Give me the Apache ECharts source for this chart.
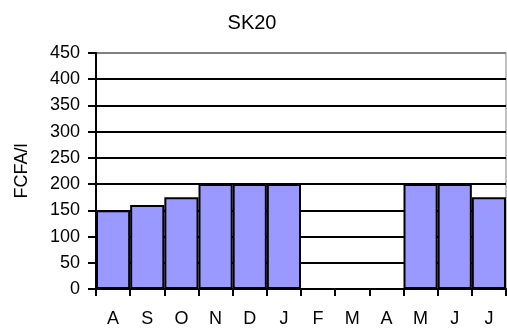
<!DOCTYPE html>
<html>
<head>
<meta charset="utf-8">
<script src="https://cdn.jsdelivr.net/npm/echarts@6/dist/echarts.min.js"></script>
<style>
html,body{margin:0;padding:0;background:#fff;}
#chart{width:507px;height:331px;}
</style>
</head>
<body>
<div id="chart"></div>
<script>
var titleText = 'SK20';
var yAxisName = 'FCFA/l';
var categories = ['A','S','O','N','D','J','F','M','A','M','J','J'];
var prices = [150,160,175,200,200,200,0,0,0,200,200,175];
var yMin = 0, yMax = 450, yStep = 50;

var FONT = '"Liberation Sans", Arial, sans-serif';
var chart = echarts.init(document.getElementById('chart'));
var splitColors = [];
for (var i = 0; i < 9; i++) splitColors.push('#000000');
splitColors.push('#808080');

chart.setOption({
  animation: false,
  backgroundColor: '#ffffff',
  title: {
    text: titleText,
    left: 247,
    top: 8,
    textAlign: 'center',
    textStyle: {fontFamily: FONT, fontSize: 20, fontWeight: 'normal', color: '#000'}
  },
  grid: {
    left: 96, right: 1, top: 53, bottom: 42,
    show: true, borderColor: '#808080', borderWidth: 1, backgroundColor: '#ffffff'
  },
  xAxis: {
    type: 'category',
    data: categories,
    boundaryGap: true,
    axisLine: {lineStyle: {color: '#000', width: 2}},
    axisTick: {show: true, alignWithLabel: false, length: 7, lineStyle: {color: '#000', width: 2}},
    axisLabel: {margin: 21, fontFamily: FONT, fontSize: 18, color: '#000', interval: 0},
    splitLine: {show: false}
  },
  yAxis: {
    type: 'value',
    min: yMin, max: yMax, interval: yStep,
    name: yAxisName,
    nameLocation: 'middle',
    nameGap: 65,
    nameTextStyle: {fontFamily: FONT, fontSize: 18, color: '#000'},
    axisLine: {show: true, lineStyle: {color: '#000', width: 2}},
    axisTick: {show: true, length: 8, lineStyle: {color: '#000', width: 2}},
    axisLabel: {margin: 16, fontFamily: FONT, fontSize: 18, color: '#000'},
    splitLine: {show: true, lineStyle: {color: splitColors, width: 2}}
  },
  series: [{
    type: 'bar',
    data: prices,
    barCategoryGap: '0%',
    itemStyle: {color: '#9999FF', borderColor: '#000', borderWidth: 2}
  }]
});
</script>
</body>
</html>
